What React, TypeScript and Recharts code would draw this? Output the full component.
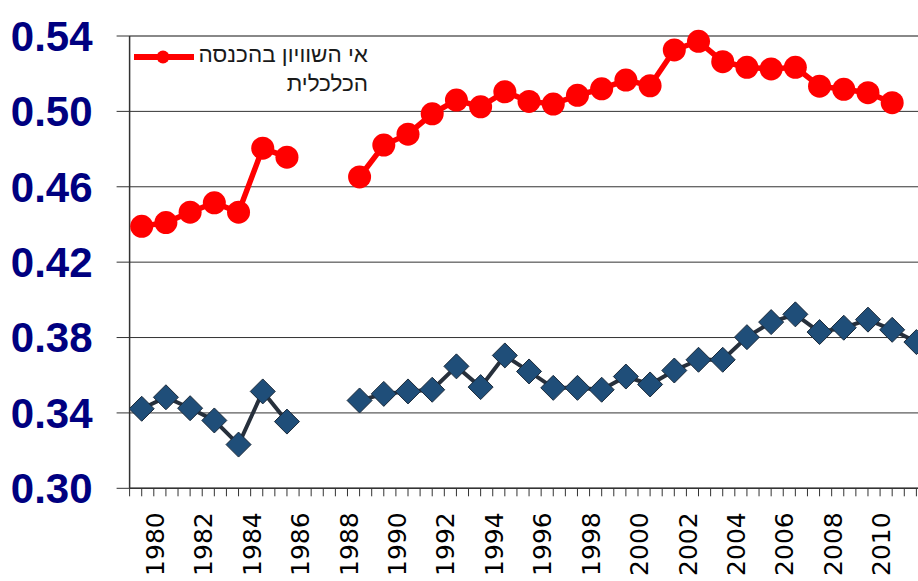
import { CartesianGrid, Legend, Line, LineChart, ReferenceLine, XAxis, YAxis } from "recharts";

const years = [
  1979, 1980, 1981, 1982, 1983, 1984, 1985, 1986, 1987, 1988, 1989, 1990, 1991, 1992, 1993, 1994, 1995,
  1996, 1997, 1998, 1999, 2000, 2001, 2002, 2003, 2004, 2005, 2006, 2007, 2008, 2009, 2010, 2011,
];

// economic income inequality (red)
const economicGini = [
  0.439, 0.441, 0.4465, 0.4515, 0.4465, 0.4805, 0.4757, null, null, 0.4652, 0.4821, 0.4879, 0.4987,
  0.506, 0.5024, 0.5104, 0.5053, 0.5039, 0.5085, 0.512, 0.5166, 0.5136, 0.5326, 0.5372, 0.5264,
  0.5234, 0.5225, 0.5234, 0.5134, 0.5117, 0.5099, 0.5046, null,
];

// disposable income inequality (blue)
const netGini = [
  0.3422, 0.3483, 0.3425, 0.336, 0.3232, 0.3514, 0.3354, null, null, 0.3466, 0.3501, 0.3514, 0.3523,
  0.3647, 0.3537, 0.3705, 0.362, 0.3533, 0.3533, 0.3523, 0.3593, 0.3551, 0.3625, 0.3682, 0.3682,
  0.3802, 0.3882, 0.3923, 0.3829, 0.3852, 0.3895, 0.3841, 0.3776,
];

const yTicks = [0.3, 0.34, 0.38, 0.42, 0.46, 0.5, 0.54];
const labelYears = [1980, 1982, 1984, 1986, 1988, 1990, 1992, 1994, 1996, 1998, 2000, 2002, 2004, 2006, 2008, 2010];
const legendLines = ["אי השוויון בהכנסה", "הכלכלית"];

const data = years.map((year, i) => ({ year, economic: economicGini[i], net: netGini[i] }));
// half-year tick marks, labels only on even years
const xTicks = [...years.flatMap((y) => [y - 0.5, y]), 2011.5];

function YearTick({ x, y, payload }: any) {
  if (!labelYears.includes(payload.value)) return <g />;
  return (
    <text
      x={x - 2}
      y={y + 16}
      transform={`rotate(-90 ${x - 2} ${y + 16})`}
      textAnchor="end"
      style={{ fontSize: 25, fontFamily: "'DejaVu Sans', Verdana, sans-serif", fill: "#000" }}
    >
      {payload.value}
    </text>
  );
}

function Diamond({ cx, cy, index }: any) {
  if (cx == null || cy == null) return <g key={`d-${index}`} />;
  const s = 12.5;
  return (
    <polygon
      key={`d-${index}`}
      points={`${cx},${cy - s} ${cx + s},${cy} ${cx},${cy + s} ${cx - s},${cy}`}
      fill="#1f4e79"
      stroke="#1b2a3a"
      strokeWidth={1}
    />
  );
}

function LegendBox() {
  return (
    <div style={{ display: "flex", alignItems: "flex-start" }}>
      <svg width={60} height={30} style={{ marginTop: 2 }}>
        <line x1={1} y1={15} x2={59} y2={15} stroke="#ff0000" strokeWidth={6} strokeLinecap="round" />
        <circle cx={29} cy={15} r={6.5} fill="#ff0000" />
      </svg>
      <div
        dir="rtl"
        style={{
          width: 174,
          textAlign: "right",
          whiteSpace: "nowrap",
          fontFamily: "'Liberation Sans', Arial, sans-serif",
          fontSize: 22.5,
          lineHeight: "29px",
          color: "#1a1a1a",
        }}
      >
        {legendLines.map((t) => (
          <div key={t}>{t}</div>
        ))}
      </div>
    </div>
  );
}

export default function App() {
  return (
    <div
      style={{
        position: "fixed",
        left: 0,
        top: 0,
        width: 918,
        height: 581,
        overflow: "hidden",
        background: "#fff",
      }}
    >
      <LineChart width={940} height={581} data={data} margin={{ top: 36, right: 11.5, bottom: 0, left: 0 }}>
        <CartesianGrid vertical={false} stroke="#333" strokeWidth={1} />
        <ReferenceLine y={0.54} stroke="#888" strokeWidth={2} />
        <XAxis
          dataKey="year"
          type="number"
          domain={[1978.5, 2011.5]}
          ticks={xTicks}
          interval={0}
          allowDataOverflow
          height={92.7}
          axisLine={{ stroke: "#333", strokeWidth: 1.5 }}
          tickLine={{ stroke: "#333" }}
          tickSize={8}
          tickMargin={0}
          tick={<YearTick />}
        />
        <YAxis
          type="number"
          domain={[0.3, 0.54]}
          ticks={yTicks}
          interval={0}
          width={129.6}
          axisLine={{ stroke: "#333", strokeWidth: 1.5 }}
          tickLine={{ stroke: "#333" }}
          tickSize={13}
          tickMargin={24}
          tickFormatter={(v: number) => v.toFixed(2)}
          tick={{
            fill: "#000080",
            fontSize: 42,
            fontWeight: "bold",
            fontFamily: "'Liberation Sans', Arial, sans-serif",
          }}
        />
        <Legend
          layout="horizontal"
          verticalAlign="middle"
          align="center"
          wrapperStyle={{ left: 134, top: 40, width: 240, height: 64 }}
          content={<LegendBox />}
        />
        <Line
          dataKey="net"
          name="net"
          stroke="#27303c"
          strokeWidth={4}
          dot={<Diamond />}
          activeDot={false}
          connectNulls={false}
          isAnimationActive={false}
          legendType="none"
        />
        <Line
          dataKey="economic"
          name="אי השוויון בהכנסה הכלכלית"
          stroke="#ff0000"
          strokeWidth={5.5}
          dot={{ r: 11.5, fill: "#ff0000", stroke: "#ff0000", strokeWidth: 0 }}
          activeDot={false}
          connectNulls={false}
          isAnimationActive={false}
        />
      </LineChart>
    </div>
  );
}
